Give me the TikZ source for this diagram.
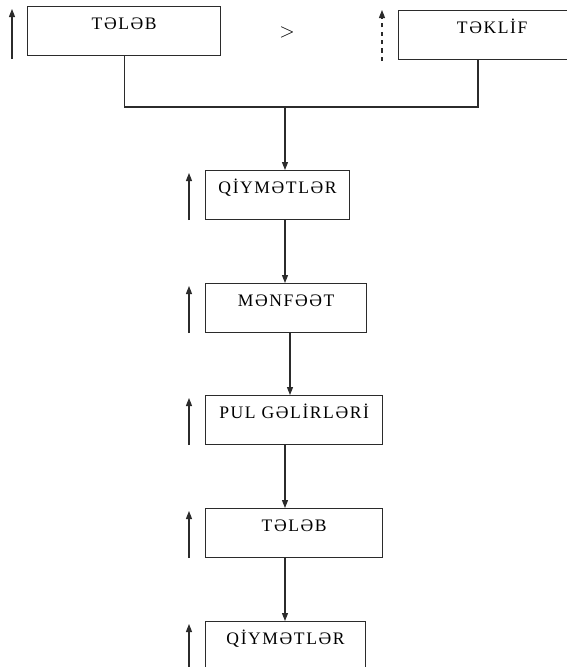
\documentclass[tikz,border=0pt]{standalone}
\usepackage{fontspec}
\setmainfont{Liberation Serif}[LetterSpace=9]
\usetikzlibrary{arrows.meta,positioning,calc}
\definecolor{inkgray}{HTML}{2B2B2B}
\tikzset{
  >={Triangle[length=2mm,width=1.5mm]},
  % bloklar
  blk/.style={draw=inkgray,line width=0.75pt,anchor=north west,inner xsep=0pt,
              inner ysep=0pt,text height=0.575cm,text depth=0.65cm,
              font=\fontsize{12.5}{14}\selectfont},
  flow/.style={->,draw=inkgray,line width=0.75pt},
  link/.style={draw=inkgray,line width=0.75pt},
  rise/.style={->,draw=inkgray,line width=0.75pt},
  risedash/.style={->,draw=inkgray,line width=0.75pt,dash pattern=on 3pt off 3pt},
}
\begin{document}
\begin{tikzpicture}[x=0.025cm,y=-0.025cm]
\useasboundingbox (0,0) rectangle (567,667);
  \node[blk,minimum width=4.83cm] (tlb) at (27,6) {TƏLƏB};
  \node[blk,minimum width=4.68cm] (tkl) at (398,10) {TƏKLİF};
  \node[font=\fontsize{15}{16}\selectfont] (gt) at (287,32) {$>$};
  \node[blk,minimum width=3.6cm] (q1) at (205,170) {QİYMƏTLƏR};
  \node[blk,minimum width=4.03cm] (mnf) at (205,283) {MƏNFƏƏT};
  \node[blk,minimum width=4.43cm] (pul) at (205,395) {PUL GƏLİRLƏRİ};
  \node[blk,minimum width=4.43cm] (tlb2) at (205,508) {TƏLƏB};
  \node[blk,minimum width=4.0cm] (q2) at (205,621) {QİYMƏTLƏR};
  \coordinate (merge) at (285,107);
  \coordinate (axisB) at (290,0);
  % yuxari oxlar
  \draw[rise] ([xshift=-3.75mm,yshift=-0.75mm]tlb.south west) -- ([xshift=-3.75mm,yshift=-0.75mm]tlb.north west);
  \draw[risedash] ([xshift=-4mm,yshift=-0.25mm]tkl.south west) -- ([xshift=-4mm]tkl.north west);
  \foreach \b in {q1,mnf,pul,tlb2,q2}
    \draw[rise] ([xshift=-4mm]\b.south west) -- ([xshift=-4mm,yshift=-0.75mm]\b.north west);
  % birlesme
  \draw[link] (tlb.south) |- (merge) -| ([xshift=2cm]tkl.south west);
  \draw[flow] (merge) -- (merge |- q1.north);
  \draw[flow] (merge |- q1.south) -- (merge |- mnf.north);
  \draw[flow] (axisB |- mnf.south) -- (axisB |- pul.north);
  \draw[flow] (merge |- pul.south) -- (merge |- tlb2.north);
  \draw[flow] (merge |- tlb2.south) -- (merge |- q2.north);
\end{tikzpicture}
\end{document}
